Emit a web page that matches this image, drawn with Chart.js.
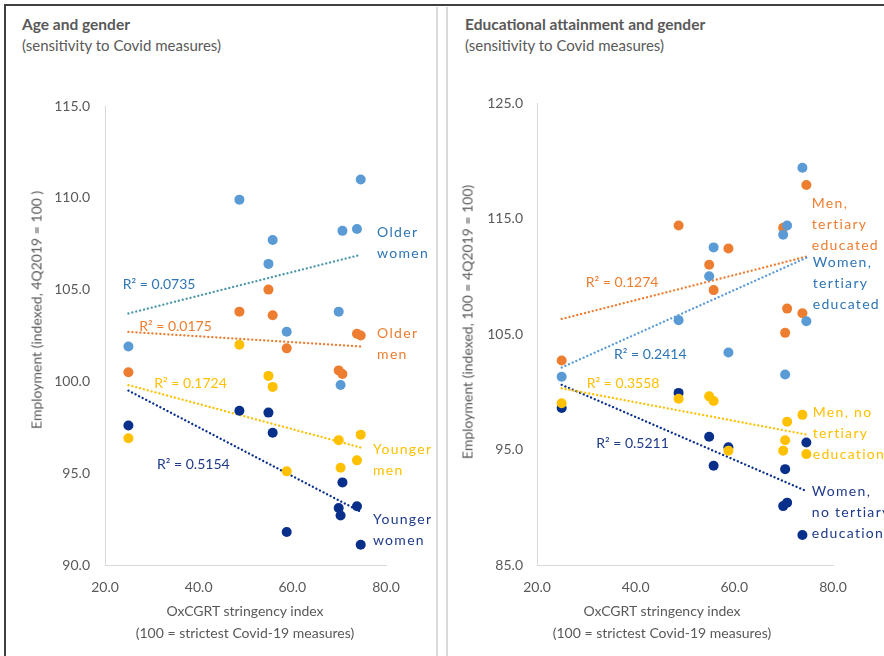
<!DOCTYPE html>
<html>
<head>
<meta charset="utf-8">
<script src="https://cdn.jsdelivr.net/npm/chart.js@4.4.1/dist/chart.umd.min.js"></script>
<style>
body { margin:0; width:884px; height:656px; overflow:hidden; background:#fff; position:relative;
       font-family: Lato, "Open Sans", sans-serif; color:#595959; }
.frame { position:absolute; left:4px; top:4px; width:900px; height:700px;
         border-top:2px solid #404040; border-left:2px solid #404040; }
.sep { position:absolute; top:7px; height:660px; width:2px; background:#D9D9D9; }
.box { position:absolute; top:5px; height:651px; }
.title { position:absolute; font-size:15.5px; font-weight:bold; white-space:nowrap; }
.sub { position:absolute; font-size:15px; white-space:nowrap; }
.ytitle { position:absolute; font-size:14px; white-space:nowrap; transform:translate(-50%,-50%) rotate(-90deg); }
.xtitle { position:absolute; font-size:14px; white-space:nowrap; transform:translateX(-50%); text-align:center; line-height:22px; }
</style>
</head>
<body>
<div class="frame"></div>
<div class="sep" style="left:436px"></div>
<div class="sep" style="left:446px"></div>

<div class="title" style="left:22px;top:15px">Age and gender</div>
<div class="sub" style="left:22px;top:36px">(sensitivity to Covid measures)</div>
<div class="title" style="left:465px;top:15px">Educational attainment and gender</div>
<div class="sub" style="left:465px;top:36px">(sensitivity to Covid measures)</div>

<div class="box" style="left:5px;width:432px"><canvas id="age-canvas"></canvas></div>
<div class="box" style="left:447px;width:437px"><canvas id="edu-canvas"></canvas></div>

<div class="ytitle" style="left:36px;top:310px">Employment (indexed, 4Q2019 = 100 )</div>
<div class="ytitle" style="left:467px;top:322px">Employment (indexed, 100 = 4Q2019 = 100)</div>
<div class="xtitle" style="left:245px;top:600px">OxCGRT stringency index<br>(100 = strictest Covid-19 measures)</div>
<div class="xtitle" style="left:662px;top:600px">OxCGRT stringency index<br>(100 = strictest Covid-19 measures)</div>

<script>
// stringency index of each country (x), shared by both panels
var stringency = [25.0, 48.7, 54.9, 55.8, 58.8, 69.9, 70.3, 70.7, 73.8, 74.6];

// age and gender
var olderWomen   = [101.9, 109.9, 106.4, 107.7, 102.7, 103.8, 99.8, 108.2, 108.3, 111.0];
var olderMen     = [100.5, 103.8, 105.0, 103.6, 101.8, 100.6, null, 100.4, 102.6, 102.5];
var youngerMen   = [96.9, 102.0, 100.3, 99.7, 95.1, 96.8, 95.3, null, 95.7, 97.1];
var youngerWomen = [97.6, 98.4, 98.3, 97.2, 91.8, 93.1, 92.7, 94.5, 93.2, 91.1];

// educational attainment and gender
var womenTertiary   = [101.3, 106.2, 110.0, 112.5, 103.4, 113.6, 101.5, 114.4, 119.4, 106.1];
var menTertiary     = [102.7, 114.4, 111.0, 108.8, 112.4, 114.2, 105.1, 107.2, 106.8, 117.9];
var menNoTertiary   = [99.0, 99.4, 99.6, 99.2, 94.9, 94.9, 95.8, 97.4, 98.0, 94.6];
var womenNoTertiary = [98.6, 99.9, 96.1, 93.6, 95.2, 90.1, 93.3, 90.4, 87.6, 95.6];

// linear trend lines, start and end values
var trendX = [25.0, 74.6];
var olderWomenTrend   = [103.7, 106.9];
var olderMenTrend     = [102.7, 101.9];
var youngerMenTrend   = [99.8, 96.4];
var youngerWomenTrend = [99.5, 92.9];
var womenTertiaryTrend   = [102.1, 111.6];
var menTertiaryTrend     = [106.3, 111.7];
var menNoTertiaryTrend   = [100.3, 96.3];
var womenNoTertiaryTrend = [100.6, 91.4];

var xTicks = [20, 40, 60, 80];

var BLUE = '#5B9BD5', ORANGE = '#ED7D31', YELLOW = '#FFC000', NAVY = '#082F8A';
var GREY = '#595959', AXIS = '#D9D9D9';

function points(ys) {
    var out = [];
    for (var i = 0; i < stringency.length; i++) {
        if (ys[i] !== null) out.push({x: stringency[i], y: ys[i]});
    }
    return out;
}

function dots(ys, color) {
    return {type: 'scatter', data: points(ys), backgroundColor: color, borderColor: color,
            pointRadius: 5, pointBorderWidth: 0, pointHoverRadius: 5, order: 1};
}

// dotted trend line (round caps on near-zero dashes)
function trend(ys, color) {
    return {type: 'line', data: [{x: trendX[0], y: ys[0]}, {x: trendX[1], y: ys[1]}],
            borderColor: color, borderWidth: 2.3, borderDash: [0.1, 3.9], borderCapStyle: 'round',
            pointRadius: 0, fill: false, order: 2};
}

function notes(items) {
    return {
        id: 'notes',
        afterDatasetsDraw: function(chart) {
            var ctx = chart.ctx, xs = chart.scales.x, ys = chart.scales.y;
            ctx.save();
            ctx.textBaseline = 'middle';
            ctx.textAlign = 'left';
            items.forEach(function(n) {
                ctx.font = '14px Lato, "Open Sans", sans-serif';
                ctx.fillStyle = n.color;
                ctx.letterSpacing = n.spacing || '0px';
                var px = xs.getPixelForValue(n.x), py = ys.getPixelForValue(n.y);
                n.text.forEach(function(t, i) { ctx.fillText(t, px, py + i * 21); });
            });
            ctx.restore();
        }
    };
}

function makeChart(id, datasets, yMin, yMax, yStep, pad, yPad, labels) {
    var ctx = document.getElementById(id).getContext('2d');
    return new Chart(ctx, {
        data: {datasets: datasets},
        options: {
            responsive: true,
            maintainAspectRatio: false,
            animation: false,
            layout: {padding: pad},
            plugins: {legend: {display: false}, tooltip: {enabled: false}},
            scales: {
                x: {
                    type: 'linear', min: 20, max: 80,
                    afterBuildTicks: function(s) { s.ticks = xTicks.map(function(v) { return {value: v}; }); },
                    afterFit: function(s) { s.height = 91; },
                    grid: {display: false, drawTicks: false},
                    border: {color: AXIS, width: 1},
                    ticks: {padding: 14, color: GREY, font: {family: 'Lato', size: 14},
                            maxRotation: 0, callback: function(v) { return v.toFixed(1); }}
                },
                y: {
                    type: 'linear', min: yMin, max: yMax,
                    afterFit: function(s) { s.width = pad.yWidth; },
                    grid: {display: false, drawTicks: false},
                    border: {color: AXIS, width: 1},
                    ticks: {stepSize: yStep, padding: yPad, color: GREY, font: {family: 'Lato', size: 14},
                            callback: function(v) { return v.toFixed(1); }}
                }
            }
        },
        plugins: [notes(labels)]
    });
}

window.onload = function() {
    makeChart('age-canvas', [
        dots(olderWomen, BLUE), dots(olderMen, ORANGE), dots(youngerMen, YELLOW), dots(youngerWomen, NAVY),
        trend(olderWomenTrend, '#4E98AE'), trend(olderMenTrend, ORANGE),
        trend(youngerMenTrend, YELLOW), trend(youngerWomenTrend, NAVY)
    ], 90, 115, 5, {left: 0, right: 51, top: 101, bottom: 0, yWidth: 100}, 15, [
        {text: ['R\u00B2 = 0.0735'], x: 23.8, y: 105.3, color: '#2E75B6'},
        {text: ['R\u00B2 = 0.0175'], x: 27.3, y: 103.0, color: ORANGE},
        {text: ['R\u00B2 = 0.1724'], x: 30.5, y: 99.9, color: YELLOW},
        {text: ['R\u00B2 = 0.5154'], x: 31.1, y: 95.5, color: '#1F3A8A'},
        {text: ['Older', 'women'], x: 78.1, y: 108.1, color: '#2E75B6', spacing: '1.3px'},
        {text: ['Older', 'men'], x: 78.1, y: 102.6, color: ORANGE, spacing: '1.3px'},
        {text: ['Younger', 'men'], x: 77.2, y: 96.3, color: YELLOW, spacing: '1.3px'},
        {text: ['Younger', 'women'], x: 77.2, y: 92.5, color: '#1F3A8A', spacing: '1.3px'}
    ]);

    makeChart('edu-canvas', [
        dots(womenTertiary, BLUE), dots(menTertiary, ORANGE), dots(menNoTertiary, YELLOW), dots(womenNoTertiary, NAVY),
        trend(womenTertiaryTrend, BLUE), trend(menTertiaryTrend, ORANGE),
        trend(menNoTertiaryTrend, YELLOW), trend(womenNoTertiaryTrend, NAVY)
    ], 85, 125, 10, {left: 0, right: 51, top: 98, bottom: 0, yWidth: 90}, 14, [
        {text: ['R\u00B2 = 0.1274'], x: 29.9, y: 109.45, color: ORANGE},
        {text: ['R\u00B2 = 0.2414'], x: 35.6, y: 103.2, color: '#2E75B6'},
        {text: ['R\u00B2 = 0.3558'], x: 30.1, y: 100.7, color: YELLOW},
        {text: ['R\u00B2 = 0.5211'], x: 32.0, y: 95.5, color: '#1F3A8A'},
        {text: ['Men,', 'tertiary', 'educated'], x: 75.7, y: 116.3, color: ORANGE, spacing: '1.3px'},
        {text: ['Women,', 'tertiary', 'educated'], x: 75.9, y: 111.2, color: '#2E75B6', spacing: '1.3px'},
        {text: ['Men, no', 'tertiary', 'education'], x: 75.9, y: 98.2, color: YELLOW, spacing: '1.3px'},
        {text: ['Women,', 'no tertiary', 'education'], x: 75.7, y: 91.4, color: '#1F3A8A', spacing: '1.3px'}
    ]);
};
</script>
</body>
</html>
